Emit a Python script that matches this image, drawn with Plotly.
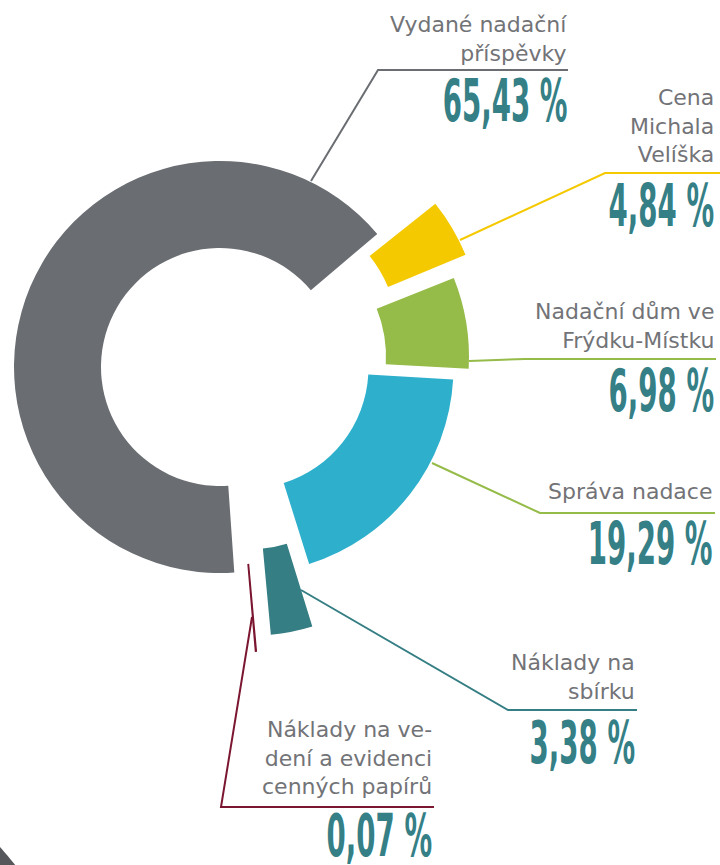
import plotly.graph_objects as go

# Rozdělení nákladů nadace (%), pořadí po směru hodinových ručiček od horního okraje šedé výseče
CATEGORIES = [
    "Cena<br>Michala<br>Velíška",
    "Nadační dům ve<br>Frýdku-Místku",
    "Správa nadace",
    "Náklady na<br>sbírku",
    "Náklady na ve-<br>dení a evidenci<br>cenných papírů",
    "Vydané nadační<br>příspěvky",
]
SHARES = [4.84, 6.98, 19.29, 3.38, 0.07, 65.43]

COLORS = ["#f5c900", "#95bb48", "#2eb0cd", "#347e84", "#7b1631", "#6a6d71"]
LINE_COLORS = ["#f5c900", "#95bb48", "#95bb48", "#347e84", "#7b1631", "#6a6d71"]

W, H = 720, 865
START_ANGLE = 39.3   # úhel, kde začíná první výseč (stupně, proti směru hod. ručiček od východu)
HALF = 220           # polovina strany čtvercové domény polárního grafu v px

# vystrčení jednotlivých výsečí: střed (px), vnitřní a vnější poloměr (px), ořez mezery (°)
CENTERS = [(268, 337), (256, 357), (247.5, 367.5), (252, 431), (238, 447), (220, 367)]
RADII = [(130, 214), (130, 213), (121, 206), (118, 204.5), (118, 205), (119, 206)]
TRIM = [1.5, 0.2, 0.2, 0.3, 0.0, 1.8]

# popisky: pravý okraj, účaří prvního řádku, účaří procenta
LABEL_POS = [(716, 103, 230), (716, 317, 415), (714, 497, 568),
             (637, 668, 767), (434, 735, 860), (569, 30, 125)]

# vodicí čáry (px)
LEADERS = [
    [(460, 240), (605, 173), (720, 173)],
    [(469, 361), (525, 359), (716, 359)],
    [(432, 463), (540, 513), (715, 513)],
    [(301, 590), (508, 710), (637, 710)],
    [(252, 617), (221, 807), (434, 807)],
    [(311, 181), (378, 70), (568, 70)],
]


def px(x):
    return x / W


def py(y):
    return 1 - y / H


fig = go.Figure()

cum = 0.0
for i, share in enumerate(SHARES):
    theta = START_ANGLE - (cum + share / 2) * 3.6
    cum += share
    cx, cy = CENTERS[i]
    r_in, r_out = RADII[i]
    name = "polar" if i == 0 else f"polar{i + 1}"
    fig.add_trace(go.Barpolar(
        r=[r_out - r_in], base=[r_in], theta=[theta],
        width=[max(share * 3.6 - TRIM[i], 0.05)],
        marker=dict(color=COLORS[i],
                    line=dict(color=COLORS[i], width=1.4 if share < 1 else 0)),
        subplot=name, hoverinfo="skip", showlegend=False,
    ))
    fig.layout[name] = dict(
        domain=dict(x=[px(cx - HALF), px(cx + HALF)],
                    y=[py(cy + HALF), py(cy - HALF)]),
        bgcolor="rgba(0,0,0,0)",
        radialaxis=dict(visible=False, range=[0, HALF]),
        angularaxis=dict(visible=False, rotation=0, direction="counterclockwise"),
    )

shapes = []
for pts, col in zip(LEADERS, LINE_COLORS):
    path = "M " + " L ".join(f"{px(x)},{py(y)}" for x, y in pts)
    shapes.append(dict(type="path", path=path, xref="paper", yref="paper",
                       line=dict(color=col, width=2)))
# tmavý kruh v levém dolním rohu (část stránky)
shapes.append(dict(type="path", xref="paper", yref="paper",
                   path=f"M {px(0)},{py(847)} Q {px(8)},{py(856)} {px(16)},{py(866)} L {px(0)},{py(866)} Z",
                   fillcolor="#55575b", line=dict(width=0)))

annotations = []
for (label, share, (xr, base1, base2)) in zip(CATEGORIES, SHARES, LABEL_POS):
    annotations.append(dict(
        text=label, x=px(xr), y=py(base1 - 20), xref="paper", yref="paper",
        xanchor="right", yanchor="top", align="right", showarrow=False,
        font=dict(family="DejaVu Sans", size=22, color="#727377"),
    ))
    annotations.append(dict(
        text=f"{share:.2f}".replace(".", ",") + " %",
        x=px(xr), y=py(base2 + 12), xref="paper", yref="paper",
        xanchor="right", yanchor="bottom", showarrow=False,
        font=dict(family="DejaVu Sans Condensed, DejaVu Sans, sans-serif",
                  size=58, color="#357f86", weight="bold"),
    ))

fig.update_layout(
    width=W, height=H,
    margin=dict(l=0, r=0, t=0, b=0),
    paper_bgcolor="white",
    plot_bgcolor="white",
    shapes=shapes,
    annotations=annotations,
    showlegend=False,
)

# bez okraje stránky; procenta zúžit do vysokého úzkého řezu jako v originále
POST = """
var s = document.createElement('style');
s.textContent = 'body{margin:0;overflow:hidden}';
document.head.appendChild(s);
document.querySelectorAll('.annotation-text').forEach(function (t) {
  if (t.textContent.indexOf('%') >= 0) {
    t.style.transformBox = 'fill-box';
    t.style.transformOrigin = '100% 50%';
    t.style.transform = 'scaleX(0.53)';
  }
});
"""

fig.write_html("out.html", post_script=POST, config={"displayModeBar": False})
